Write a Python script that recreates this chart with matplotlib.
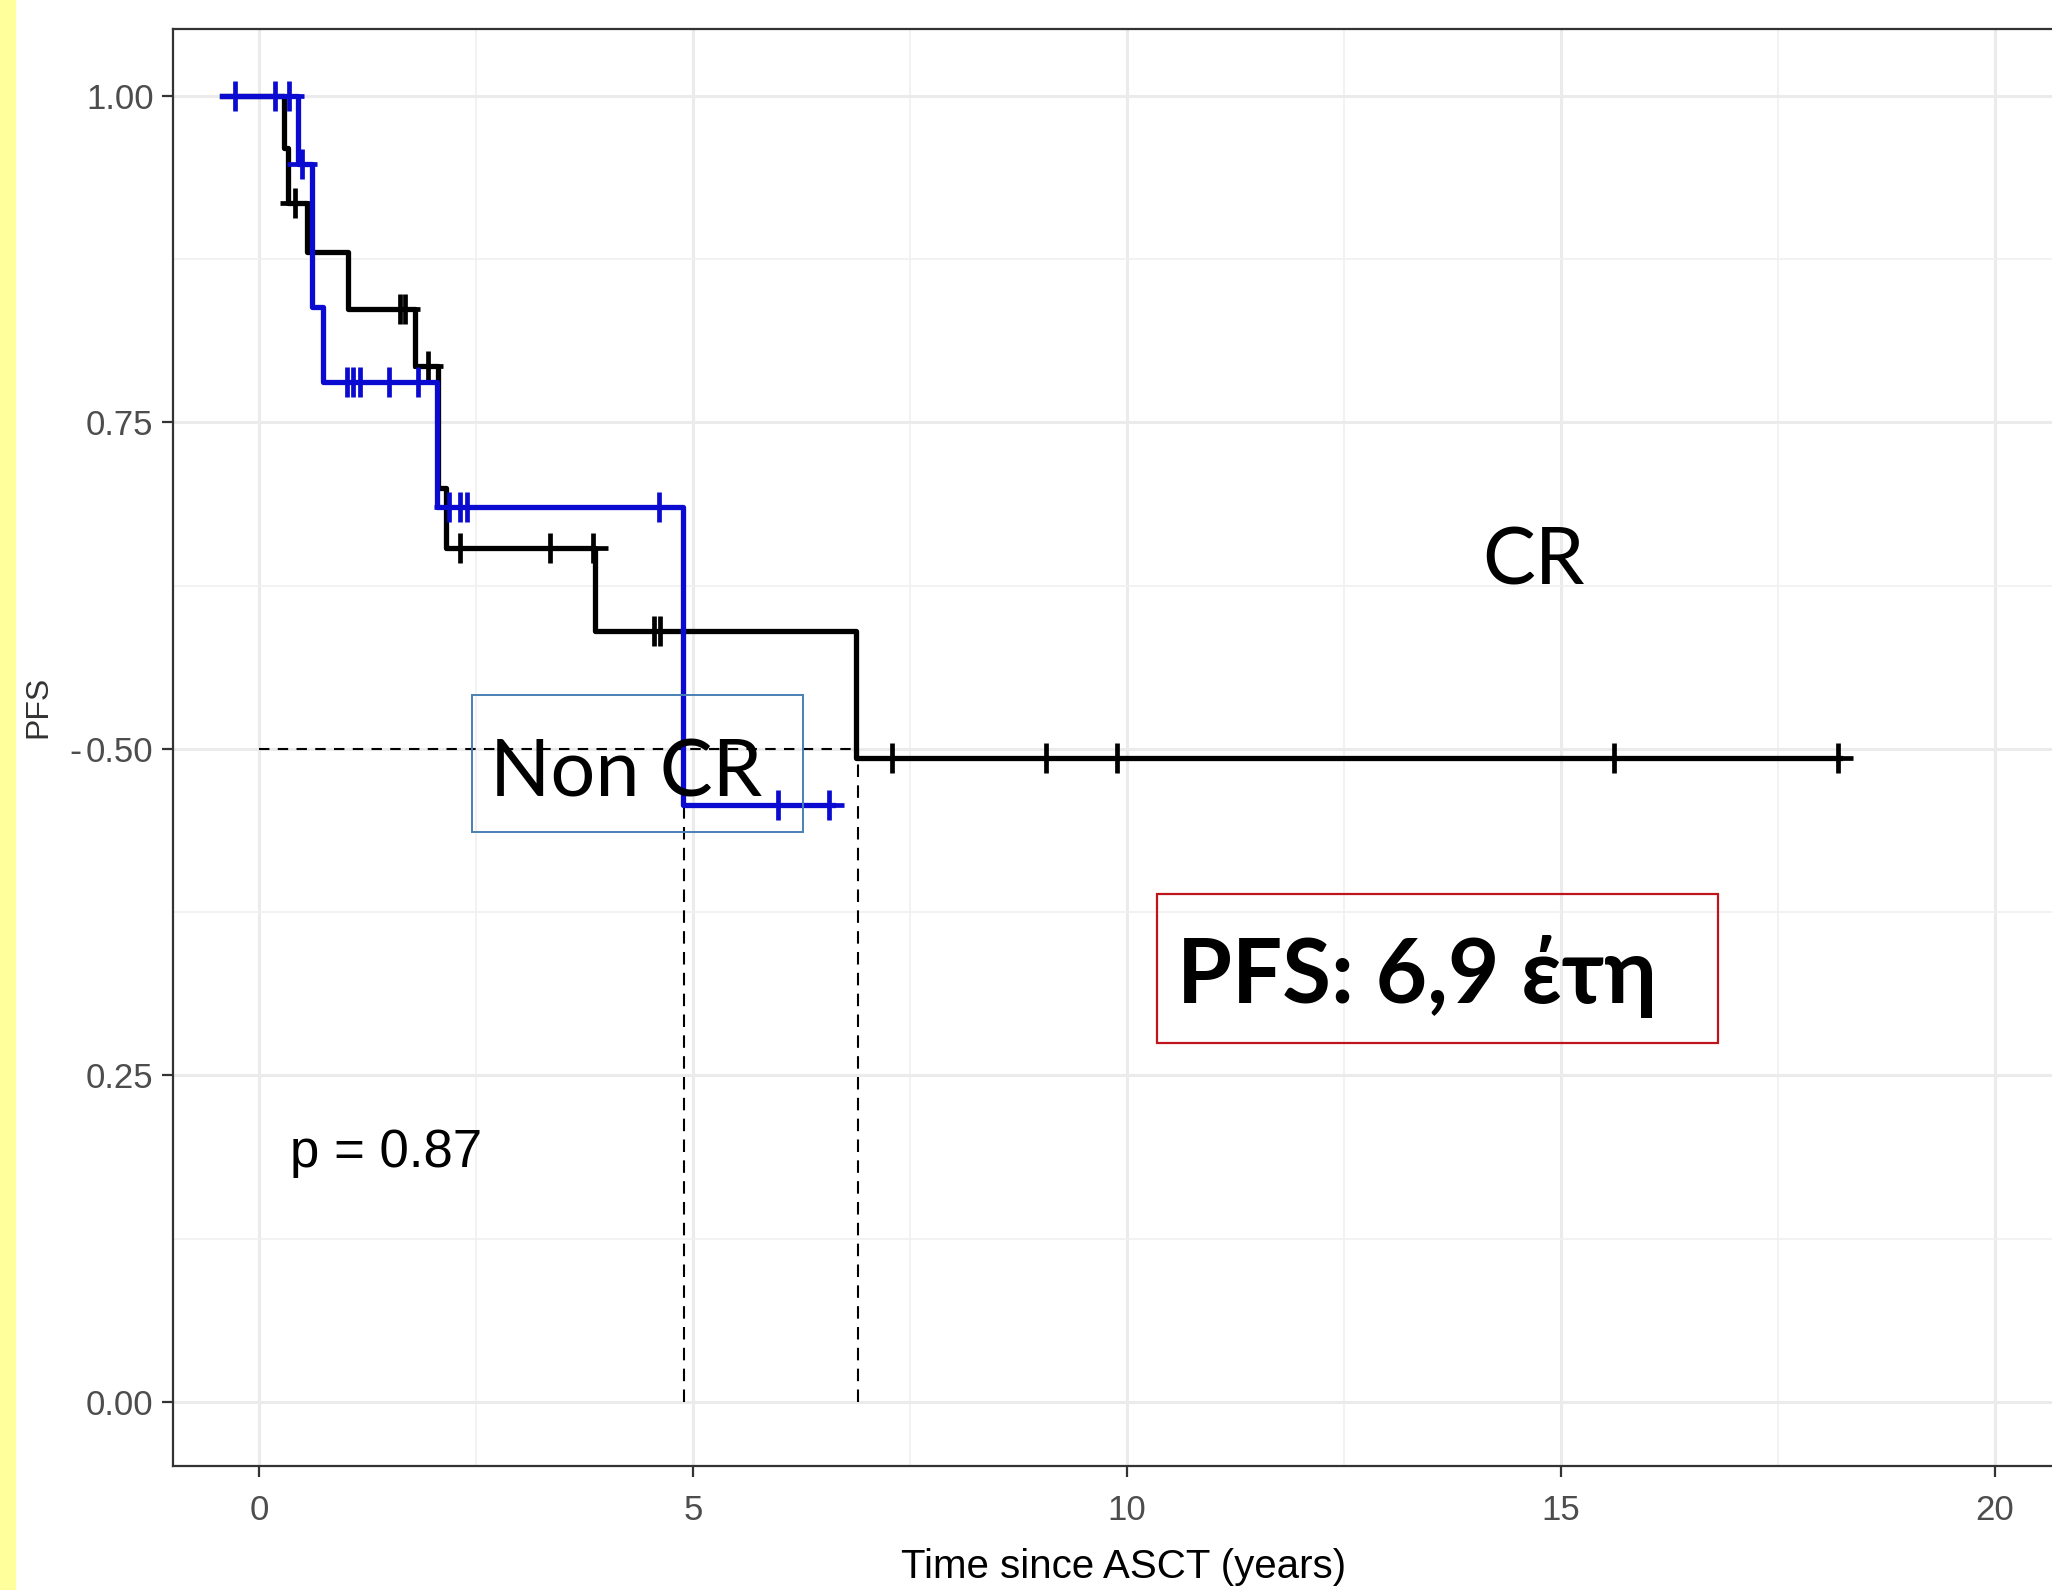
import numpy as np
import matplotlib
matplotlib.use("Agg")
import matplotlib.pyplot as plt
from matplotlib import font_manager
from matplotlib.patches import Rectangle

# Kaplan-Meier steps: time of each step and survival after it
cr_times = [-0.42, 0.29, 0.34, 0.55, 1.03, 1.80, 2.06, 2.15, 3.87, 6.88, 18.22]
cr_surv = [1.0, 0.960, 0.918, 0.880, 0.837, 0.793, 0.700, 0.654, 0.590, 0.493, 0.493]
cr_censored = [0.42, 1.62, 1.68, 1.95, 2.32, 3.35, 3.85, 4.55, 4.62,
               7.29, 9.07, 9.89, 15.61, 18.20]

ncr_times = [-0.42, 0.45, 0.61, 0.74, 2.05, 4.89, 6.62]
ncr_surv = [1.0, 0.948, 0.838, 0.781, 0.685, 0.457, 0.457]
ncr_censored = [-0.28, 0.19, 0.35, 0.50, 1.01, 1.08, 1.17, 1.50, 1.83,
                2.19, 2.32, 2.40, 4.61, 5.98, 6.57]

median_level = 0.5
median_times = [4.9, 6.9]

x_ticks = [0, 5, 10, 15, 20]
y_ticks = [0.0, 0.25, 0.5, 0.75, 1.0]
y_ticklabels = ["0.00", "0.25", "0.50", "0.75", "1.00"]


def pick_font(names):
    for name in names:
        try:
            font_manager.findfont(font_manager.FontProperties(family=name),
                                  fallback_to_default=False)
            return name
        except ValueError:
            pass
    return "DejaVu Sans"


narrow = pick_font(["Liberation Sans Narrow", "Liberation Sans"])
arial = pick_font(["Liberation Sans", "Arimo"])
calibri = pick_font(["Lato", "Open Sans", "Noto Sans"])
tick_size = 29 if narrow.endswith("Narrow") else 25
xlab_size = 35 if narrow.endswith("Narrow") else 29


def surv_at(times, surv, t):
    i = np.searchsorted(times, t, side="right") - 1
    return np.asarray(surv)[i]


fig = plt.figure(figsize=(20.52, 15.90), dpi=100)
fig.patches.append(Rectangle((0, 0), 15 / 2052, 1, transform=fig.transFigure,
                             color="#ffff9c", zorder=0))
ax = fig.add_axes([173 / 2052, 1 - 1466 / 1590, 1 - 173 / 2052, (1466 - 29) / 1590])

ax.set_xlim(-0.99, 20.66)
ax.set_ylim(-0.049, 1.051)

# theme_bw style grid
ax.set_xticks(x_ticks)
ax.set_xticks([2.5, 7.5, 12.5, 17.5], minor=True)
ax.set_yticks(y_ticks)
ax.set_yticks([0.125, 0.375, 0.625, 0.875], minor=True)
ax.grid(which="major", color="#ebebeb", lw=2.2, zorder=0)
ax.grid(which="minor", color="#f0f0f0", lw=1.2, zorder=0)
ax.set_axisbelow(True)
for side in ["left", "bottom", "top"]:
    ax.spines[side].set_color("#333333")
    ax.spines[side].set_linewidth(1.6)
ax.spines["right"].set_visible(False)
ax.tick_params(which="major", length=8, width=1.6, color="#333333", pad=6,
               labelcolor="#4d4d4d", labelsize=tick_size)
ax.tick_params(axis="x", pad=12)
ax.tick_params(which="minor", length=0)
ax.set_yticklabels(y_ticklabels, family=narrow)
ax.set_xticklabels([str(t) for t in x_ticks], family=narrow)

# median guides
ax.plot([0, median_times[-1]], [median_level, median_level], color="black",
        lw=1.5, ls=(0, (5, 4)), zorder=2)
for t in median_times:
    ax.plot([t, t], [0, median_level], color="black", lw=1.5, ls=(0, (6, 4)), zorder=2)

# survival curves with censoring marks
ax.step(cr_times, cr_surv, where="post", color="black", lw=3.8, zorder=3)
ax.plot(cr_censored, surv_at(cr_times, cr_surv, cr_censored), ls="none",
        marker="+", ms=21, mew=3.4, color="black", zorder=3)
ax.step(ncr_times, ncr_surv, where="post", color="#0a0ad0", lw=3.8, zorder=4)
ax.plot(ncr_censored, surv_at(ncr_times, ncr_surv, ncr_censored), ls="none",
        marker="+", ms=21, mew=3.4, color="#0a0ad0", zorder=4)

# annotations
ax.add_patch(Rectangle((2.46, 0.436), 3.81, 0.105, fill=False,
                       ec="#4a80b4", lw=1.4, zorder=5))
ax.text(2.66, 0.4635, "Non CR", family=calibri, fontsize=57, va="baseline", zorder=6)
ax.text(14.1, 0.6256, "CR", family=calibri, fontsize=57, va="baseline", zorder=6)
ax.add_patch(Rectangle((10.35, 0.275), 6.46, 0.114, fill=False,
                       ec="#c0141c", lw=1.6, zorder=5))
ax.text(10.58, 0.3055, "PFS: 6,9 έτη", family=[calibri, "DejaVu Sans"],
        fontsize=64, fontweight="bold", va="baseline", zorder=6)
ax.text(0.36, 0.18, "p = 0.87", family=arial, fontsize=38, va="baseline", zorder=6)

fig.text(1124 / 2052, 1 - 1567 / 1590, "Time since ASCT (years)", family=narrow,
         fontsize=xlab_size, ha="center", va="center")
fig.text(38 / 2052, 1 - 707 / 1590, "PFS", family=narrow, fontsize=23,
         rotation=90, ha="center", va="center", color="#333333")
fig.text(75 / 2052, 1 - 752 / 1590, "-", family=arial, fontsize=26,
         ha="center", va="center", color="#4d4d4d")

fig.savefig("out.png", dpi=100)
